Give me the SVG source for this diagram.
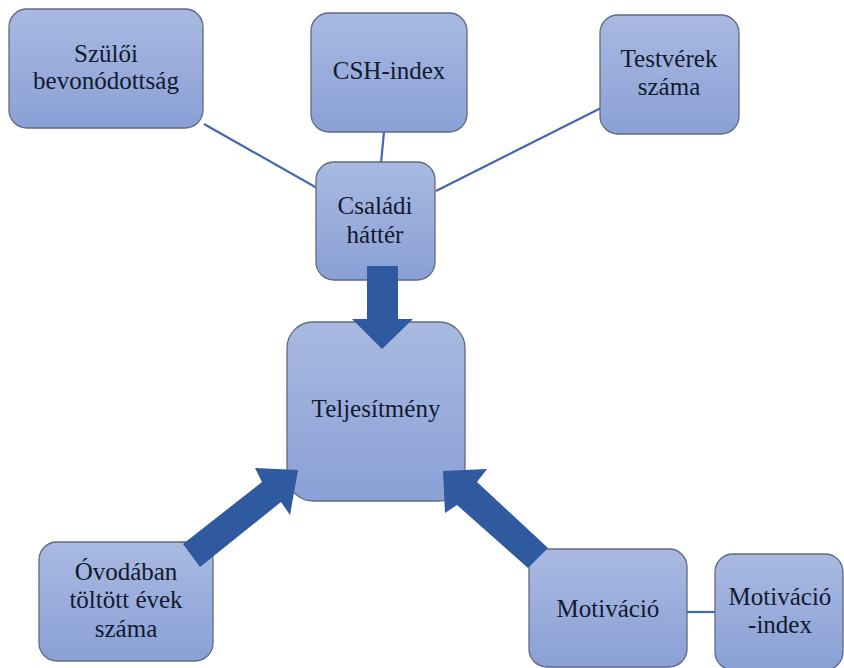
<svg xmlns="http://www.w3.org/2000/svg" width="844" height="668" viewBox="0 0 844 668">
<defs>
<linearGradient id="g" x1="0" y1="0" x2="0" y2="1">
<stop offset="0" stop-color="#a9b9e1"/>
<stop offset="1" stop-color="#8aa0d6"/>
</linearGradient>
<style>
.box{fill:url(#g);stroke:#5f6b80;stroke-width:1.3}
.t{font-size:25px;fill:#111a2e;text-anchor:middle}
.ln{stroke:#4468ae;stroke-width:2.2;fill:none}
.ar{fill:#2f5a9f}
</style>
</defs>
<rect width="844" height="668" fill="#ffffff"/>
<g id="connectors">
<line class="ln" x1="204" y1="124" x2="317" y2="188"/>
<line class="ln" x1="384" y1="132" x2="381" y2="163"/>
<line class="ln" x1="601" y1="108" x2="436" y2="191"/>
<line class="ln" x1="687" y1="612" x2="715" y2="612"/>
</g>
<g font-family="Liberation Serif, DejaVu Serif, serif">
<g id="szuloi"><rect class="box" x="9" y="9" width="194" height="119" rx="18"/><text class="t" x="106" y="62">Szülői</text><text class="t" x="106" y="89">bevonódottság</text></g>
<g id="csh"><rect class="box" x="311" y="13" width="156" height="119" rx="18"/><text class="t" x="389" y="79">CSH-index</text></g>
<g id="testverek"><rect class="box" x="600" y="15" width="139" height="119" rx="18"/><text class="t" x="669" y="67">Testvérek</text><text class="t" x="669" y="95">száma</text></g>
<g id="csaladi"><rect class="box" x="316" y="162" width="119" height="118" rx="18"/><text class="t" x="375" y="214">Családi</text><text class="t" x="375" y="243">háttér</text></g>
<g id="teljesitmeny"><rect class="box" x="287" y="322" width="178" height="179" rx="26"/><text class="t" x="376" y="417">Teljesítmény</text></g>
<g id="ovodaban"><rect class="box" x="39" y="542" width="174" height="119" rx="18"/><text class="t" x="126" y="580">Óvodában</text><text class="t" x="126" y="608">töltött évek</text><text class="t" x="126" y="637">száma</text></g>
<g id="motivacio"><rect class="box" x="529" y="549" width="158" height="118" rx="18"/><text class="t" x="608" y="617">Motiváció</text></g>
<g id="motivacio-index"><rect class="box" x="715" y="554" width="128" height="116" rx="18"/><text class="t" x="780" y="605">Motiváció</text><text class="t" x="780" y="633">-index</text></g>
</g>
<g id="arrows">
<polygon class="ar" points="367,266 398,266 398,319 413,319 382,349 352,319 367,319"/>
<polygon class="ar" points="183,544 262,482 255,468 298,470 290,515 281,502 200,567"/>
<polygon class="ar" points="548,548 477,482 487,469 443,471 445,513 457,505 528,568"/>
</g>
</svg>
